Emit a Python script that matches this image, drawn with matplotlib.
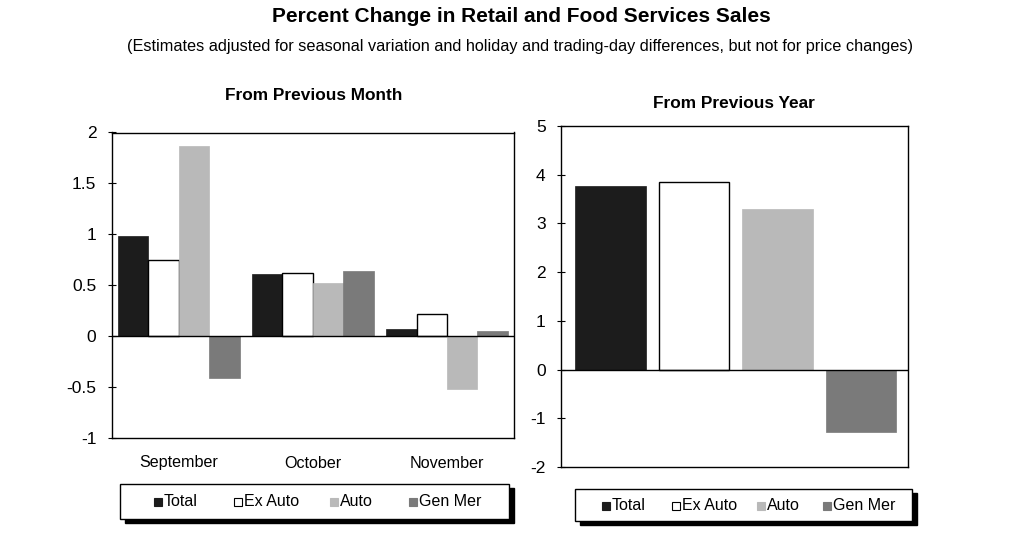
import matplotlib
matplotlib.use("Agg")
import matplotlib.pyplot as plt
from matplotlib.patches import Rectangle
import numpy as np

plt.rcParams['font.family'] = ['Liberation Sans', 'DejaVu Sans']
plt.rcParams['axes.unicode_minus'] = False

series = ["Total", "Ex Auto", "Auto", "Gen Mer"]
colors = ["#1c1c1c", "#ffffff", "#b9b9b9", "#7a7a7a"]
months = ["September", "October", "November"]
month_vals = {
    "Total":   [0.98, 0.61, 0.07],
    "Ex Auto": [0.75, 0.62, 0.22],
    "Auto":    [1.87, 0.52, -0.52],
    "Gen Mer": [-0.41, 0.64, 0.05],
}
year_vals = [3.77, 3.86, 3.30, -1.29]

W, H = 1024, 538
fig = plt.figure(figsize=(W / 100, H / 100), dpi=100)

def fx(px):
    return px / W

def fy(py):
    return 1 - py / H

# Titles
fig.text(fx(521), fy(16), "Percent Change in Retail and Food Services Sales",
         ha="center", va="center", fontsize=15, fontweight="bold")
fig.text(fx(520), fy(47), "(Estimates adjusted for seasonal variation and holiday and trading-day differences, but not for price changes)",
         ha="center", va="center", fontsize=11.7)
fig.text(fx(314), fy(95), "From Previous Month", ha="center", va="center",
         fontsize=12.4, fontweight="bold")
fig.text(fx(734), fy(103), "From Previous Year", ha="center", va="center",
         fontsize=12.4, fontweight="bold")

# Left axes
ax1 = fig.add_axes([fx(111.7), fy(438), fx(514 - 111.7), (438 - 132.5) / H])
x = np.arange(len(months))
bw = 0.227
for i, s in enumerate(series):
    ec = "black" if s == "Ex Auto" else colors[i]
    lw = 1.0 if s == "Ex Auto" else 0.5
    ax1.bar(x + (i - 1.5) * bw, month_vals[s], width=bw, color=colors[i],
            edgecolor=ec, linewidth=lw, zorder=2)
ax1.set_xlim(-0.5, 2.5)
ax1.set_ylim(-1, 2)
ax1.set_yticks([-1, -0.5, 0, 0.5, 1, 1.5, 2])
ax1.set_yticklabels(["-1", "-0.5", "0", "0.5", "1", "1.5", "2"])
ax1.set_xticks([])
ax1.axhline(0, color="black", linewidth=1.0, zorder=3)
for i, m in enumerate(months):
    ax1.annotate(m, xy=(i, 0), xycoords=("data", "axes fraction"),
                 xytext=(0, -25), textcoords="offset pixels",
                 ha="center", va="center", fontsize=11.6)

# Right axes
ax2 = fig.add_axes([fx(561), fy(467), fx(908 - 561), (467 - 126) / H])
xr = np.arange(len(series))
for i, s in enumerate(series):
    ec = "black" if s == "Ex Auto" else colors[i]
    lw = 1.0 if s == "Ex Auto" else 0.5
    ax2.bar(xr[i], year_vals[i], width=0.84, color=colors[i], edgecolor=ec,
            linewidth=lw, zorder=2)
ax2.set_xlim(-0.593, 3.563)
ax2.set_ylim(-2, 5)
ax2.set_yticks(range(-2, 6))
ax2.set_xticks([])
ax2.axhline(0, color="black", linewidth=1.0, zorder=3)

for ax in (ax1, ax2):
    ax.set_facecolor("white")
    for sp in ax.spines.values():
        sp.set_linewidth(1.0)
        sp.set_color("black")
    ax.tick_params(axis="y", direction="inout", length=6, width=0.8,
                   labelsize=12.5, pad=8)

# Legend boxes with shadow
def legend_box(x0, y0, x1, y1, markers_x, ymid):
    fig.add_artist(Rectangle((fx(x0 + 5), fy(y1 + 4)), fx(x1 - x0), (y1 - y0) / H,
                             transform=fig.transFigure, facecolor="black",
                             edgecolor="black", zorder=1))
    fig.add_artist(Rectangle((fx(x0), fy(y1)), fx(x1 - x0), (y1 - y0) / H,
                             transform=fig.transFigure, facecolor="white",
                             edgecolor="black", linewidth=1.0, zorder=2))
    ms = 8
    for i, s in enumerate(series):
        mx = markers_x[i]
        ec = "black" if s == "Ex Auto" else colors[i]
        fig.add_artist(Rectangle((fx(mx - ms / 2), fy(ymid + ms / 2)), fx(ms), ms / H,
                                 transform=fig.transFigure, facecolor=colors[i],
                                 edgecolor=ec, linewidth=0.8, zorder=3))
        fig.text(fx(mx + ms / 2 + 2), fy(ymid), s, ha="left", va="center",
                 fontsize=11.5, zorder=4)

legend_box(120, 484, 509, 519, [158, 238, 334, 413], 502)
legend_box(575, 489, 912, 521, [606, 676, 761, 827], 506)

fig.savefig("out.png", dpi=100, facecolor="white")
